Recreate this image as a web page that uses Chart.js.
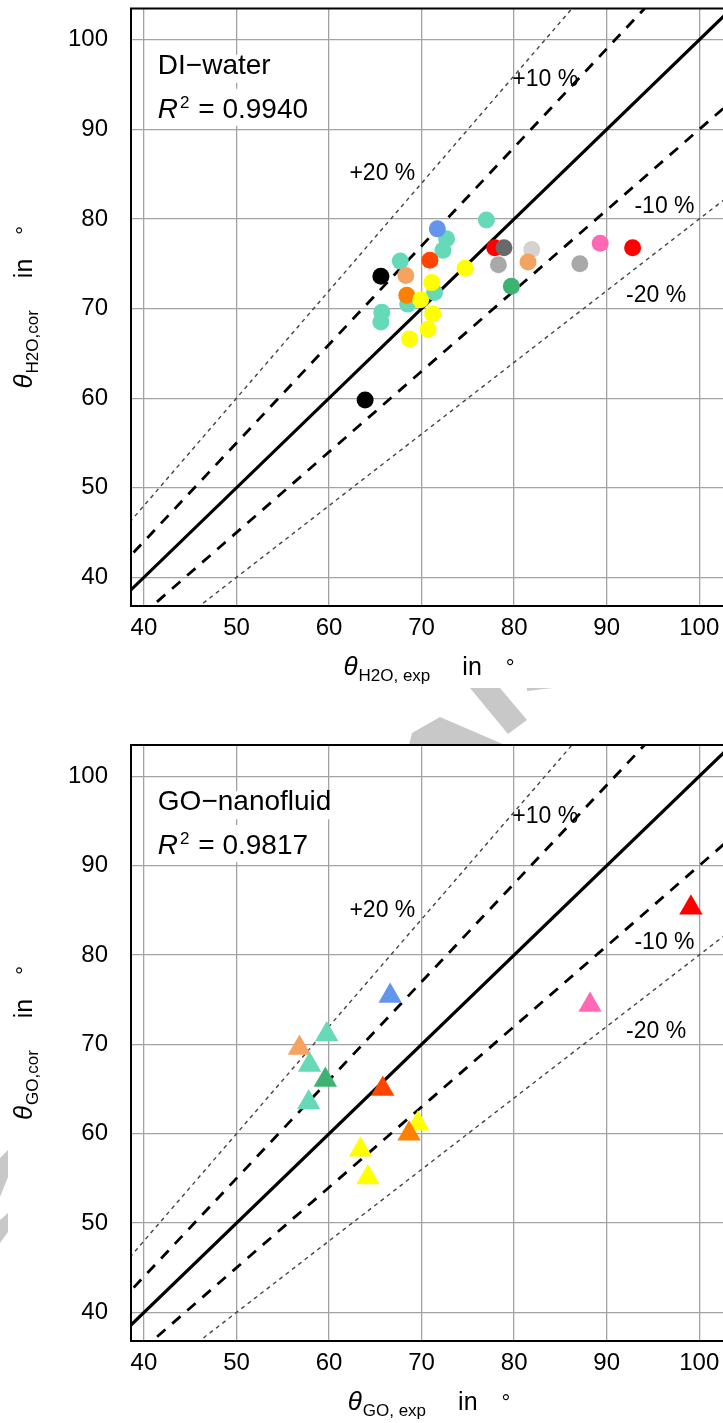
<!DOCTYPE html>
<html>
<head>
<meta charset="utf-8">
<script src="https://cdn.jsdelivr.net/npm/chart.js@4/dist/chart.umd.min.js"></script>
<style>
  html, body { margin: 0; padding: 0; background: #fff; width: 723px; height: 1423px; overflow: hidden; }
  .wrap { position: absolute; left: 0; }
  #wrapTop { top: 0; }
  #wrapBot { top: 700px; }
  .wm { position: absolute; left: 0; top: 0; width: 723px; height: 1423px; background: #c8c8c8; }
</style>
</head>
<body>
<!-- watermark bits that peek out between the two panels -->
<div class="wm" style="clip-path: polygon(470px 688px, 500px 688px, 527px 720px, 508px 734px)"></div>
<div class="wm" style="clip-path: polygon(527px 688px, 553px 688px, 527px 691px)"></div>
<div class="wm" style="clip-path: polygon(409px 745px, 412px 733px, 440px 717px, 505px 745px)"></div>
<div class="wm" style="clip-path: polygon(0px 1158px, 8px 1150px, 8px 1177px, 0px 1197px)"></div>
<div class="wm" style="clip-path: polygon(0px 1220px, 8px 1213px, 8px 1232px, 0px 1243px)"></div>

<div class="wrap" id="wrapTop"><canvas id="chartTop" width="745" height="690"></canvas></div>
<div class="wrap" id="wrapBot"><canvas id="chartBot" width="745" height="723"></canvas></div>

<script>
/* ── 데이터 ─────────────────────────────────────── */
const xTicks = [40, 50, 60, 70, 80, 90, 100];
const yTicks = [40, 50, 60, 70, 80, 90, 100];

// 기준선 y = k·x  (1, ±10 %, ±20 %)
const refFactors = [1, 1.1, 0.9, 1.2, 0.8];
const refSpan = [30, 115];

const TEAL = "#66D9B8", BLUE = "#6495ED", ORED = "#FF4500", SANDY = "#F4A460",
      DIMG = "#696969", LGRAY = "#D3D3D3", GRAY = "#A9A9A9", PINK = "#FF69B4",
      RED = "#FF0000", GREEN = "#3CB371", ORANGE = "#FF8000", YELLOW = "#FFFF00",
      BLACK = "#000000";

// DI-water
const waterExp = [65.6, 65.7, 68.5, 67.7, 71.4, 72.3, 72.7, 77.0, 71.7,
                  77.9, 78.9, 81.9, 78.3, 87.1, 81.5, 89.3, 92.8, 70.9,
                  74.7, 65.6, 68.3, 71.1, 79.7, 68.4, 69.9, 71.2, 70.7,
                  68.7, 63.9];
const waterCor = [68.5, 69.6, 70.5, 75.3, 71.8, 76.5, 77.8, 79.9, 78.9,
                  76.8, 76.8, 76.6, 74.9, 75.0, 75.2, 77.3, 76.8, 75.4,
                  74.5, 73.6, 73.7, 72.9, 72.5, 71.5, 71.0, 69.4, 67.7,
                  66.6, 59.8];
const waterColors = [TEAL, TEAL, TEAL, TEAL, TEAL, TEAL, TEAL, TEAL, BLUE,
                     RED, DIMG, LGRAY, GRAY, GRAY, SANDY, PINK, RED, ORED,
                     YELLOW, BLACK, SANDY, YELLOW, GREEN, ORANGE, YELLOW, YELLOW, YELLOW,
                     YELLOW, BLACK];

// GO-nanofluid
const goExp = [99.1, 88.2, 66.6, 59.75, 56.8, 57.9, 59.6, 57.8, 65.8, 69.6, 68.65, 63.4, 64.2];
const goCor = [85.3, 74.4, 75.4, 71.1, 69.6, 67.7, 66.0, 63.5, 65.0, 61.1, 60.0, 58.2, 55.1];
const goColors = [RED, PINK, BLUE, TEAL, SANDY, TEAL, GREEN, TEAL, ORED, YELLOW, ORANGE, YELLOW, YELLOW];

// 주석 (텍스트, x, y 데이터 좌표)
const bandNotes = [["+10 %", 79.8, 94.8], ["+20 %", 62.2, 84.3], ["-10 %", 93.0, 80.7], ["-20 %", 92.1, 70.7]];

const FAM = '"Liberation Sans", Arial, sans-serif';

/* ── 그리기 보조 ─────────────────────────────────── */
function drawAxisTitle(ctx, sub, cx, cy, rotate) {
  ctx.save();
  ctx.translate(cx, cy);
  if (rotate) ctx.rotate(-Math.PI / 2);
  ctx.fillStyle = "#000";
  ctx.textBaseline = "alphabetic";
  ctx.textAlign = "left";
  const parts = [
    { t: "θ", f: "italic 26px " + FAM, dy: 0, gap: 0 },
    { t: sub, f: "17px " + FAM, dy: 6, gap: 1 },
    { t: "in", f: "25px " + FAM, dy: 0, gap: 32 },
    { t: "°", f: "22px " + FAM, dy: 0, gap: 24 },
  ];
  let total = 0;
  parts.forEach(p => { ctx.font = p.f; p.w = ctx.measureText(p.t).width; total += p.gap + p.w; });
  let px = -total / 2;
  parts.forEach(p => { px += p.gap; ctx.font = p.f; ctx.fillText(p.t, px, p.dy); px += p.w; });
  ctx.restore();
}

const decor = {
  id: "decor",
  beforeDatasetsDraw(chart, args, o) {
    const { ctx, scales: { x, y } } = chart;
    ctx.save();
    ctx.textBaseline = "alphabetic";
    ctx.textAlign = "left";

    // 이름 + R² 박스
    const lx = x.getPixelForValue(41.5);
    const b1 = y.getPixelForValue(96.2);
    const b2 = y.getPixelForValue(91.3);
    ctx.font = "28px " + FAM;
    const w1 = ctx.measureText(o.name).width;
    ctx.font = "italic 28px " + FAM;
    const wR = ctx.measureText("R").width;
    ctx.font = "17px " + FAM;
    const w2s = ctx.measureText("2").width;
    ctx.font = "28px " + FAM;
    const wv = ctx.measureText(" = " + o.r2).width;
    ctx.fillStyle = "#fff";
    ctx.fillRect(lx - 6, b1 - 19, w1 + 12, 28);
    ctx.fillRect(lx - 6, b2 - 29, wR + w2s + wv + 14, 37);

    ctx.fillStyle = "#000";
    ctx.font = "28px " + FAM;
    ctx.fillText(o.name, lx, b1);
    ctx.font = "italic 28px " + FAM;
    ctx.fillText("R", lx, b2);
    ctx.font = "17px " + FAM;
    ctx.fillText("2", lx + wR + 2, b2 - 10);
    ctx.font = "28px " + FAM;
    ctx.fillText(" = " + o.r2, lx + wR + w2s + 3, b2);

    // ±% 라벨
    ctx.font = "23px " + FAM;
    bandNotes.forEach(([t, vx, vy]) => {
      ctx.fillText(t, x.getPixelForValue(vx), y.getPixelForValue(vy));
    });
    ctx.restore();
  },
  afterDraw(chart, args, o) {
    const { ctx, chartArea: a } = chart;
    ctx.save();
    ctx.strokeStyle = "#000";
    ctx.lineWidth = 2;
    ctx.strokeRect(a.left, a.top, a.right - a.left, a.bottom - a.top);
    ctx.restore();
    drawAxisTitle(ctx, o.xSub, (a.left + a.right) / 2, a.bottom + 69, false);
    drawAxisTitle(ctx, o.ySub, 32, (a.top + a.bottom) / 2, true);
  },
};

const refStyles = {
  1:   { color: "#000", width: 3.2, dash: [] },
  1.1: { color: "#000", width: 2.8, dash: [11, 9] },
  0.9: { color: "#000", width: 2.8, dash: [11, 9] },
  1.2: { color: "#444", width: 1.4, dash: [4, 4] },
  0.8: { color: "#444", width: 1.4, dash: [4, 4] },
};

function makeChart(id, exp, cor, colors, style, radius, o) {
  const gridOpts = { color: "#a3a3a3", lineWidth: 1.3, drawTicks: false };
  const tickFont = { family: FAM, size: 24 };
  return new Chart(document.getElementById(id), {
    type: "scatter",
    data: {
      datasets: [
        {
          data: exp.map((v, i) => ({ x: v, y: cor[i] })),
          pointStyle: style,
          pointRadius: radius,
          pointHoverRadius: radius,
          pointBackgroundColor: colors,
          pointBorderWidth: 0,
          order: 0,
        },
        ...refFactors.map(k => ({
          data: refSpan.map(v => ({ x: v, y: v * k })),
          showLine: true,
          pointRadius: 0,
          borderColor: refStyles[k].color,
          borderWidth: refStyles[k].width,
          borderDash: refStyles[k].dash,
          fill: false,
          order: 1,
        })),
      ],
    },
    options: {
      responsive: false,
      animation: false,
      events: [],
      layout: { padding: { top: o.top, right: 18, left: 0, bottom: 0 } },
      plugins: { legend: { display: false }, tooltip: { enabled: false }, decor: o },
      scales: {
        x: {
          type: "linear",
          min: 38.6,
          max: 103,
          afterBuildTicks: s => { s.ticks = xTicks.map(value => ({ value })); },
          afterFit: s => { s.height = o.xAxisH; },
          grid: gridOpts,
          border: { color: "#000", width: 2 },
          ticks: { color: "#000", font: tickFont, padding: 8, maxRotation: 0, callback: v => String(v) },
        },
        y: {
          type: "linear",
          min: 36.8,
          max: 103.5,
          afterBuildTicks: s => { s.ticks = yTicks.map(value => ({ value })); },
          afterFit: s => { s.width = 131; s.paddingTop = 0; s.paddingBottom = 0; },
          grid: gridOpts,
          border: { color: "#000", width: 2 },
          ticks: { color: "#000", font: tickFont, padding: 23, callback: v => String(v) },
        },
      },
    },
    plugins: [decor],
  });
}

makeChart("chartTop", waterExp, waterCor, waterColors, "circle", 8.5,
  { name: "DI\u2212water", r2: "0.9940", xSub: "H2O, exp", ySub: "H2O,cor", top: 8, xAxisH: 84 });
makeChart("chartBot", goExp, goCor, goColors, "triangle", 13.5,
  { name: "GO\u2212nanofluid", r2: "0.9817", xSub: "GO, exp", ySub: "GO,cor", top: 45, xAxisH: 82 });
</script>
</body>
</html>
